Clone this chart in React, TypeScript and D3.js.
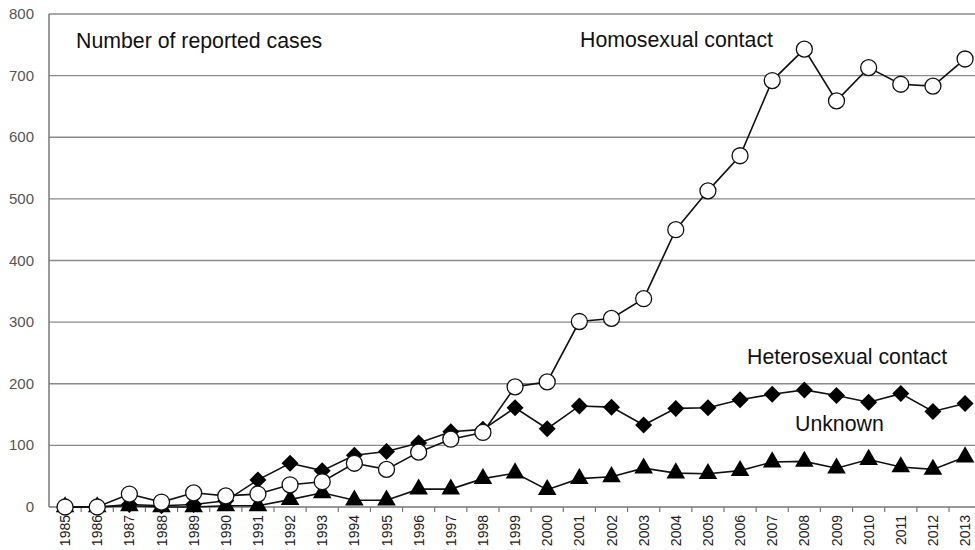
import React, { useEffect, useRef } from 'react';
import * as d3 from 'd3';

const years = d3.range(1985, 2014).map(String);
const homosexual = [0, 0, 21, 8, 23, 18, 21, 36, 41, 71, 61, 89, 110, 121, 195, 203, 301, 306, 338, 450, 513, 570, 692, 743, 659, 713, 686, 683, 727];
const heterosexual = [0, 0, 4, 2, 4, 10, 44, 71, 59, 84, 90, 104, 122, 126, 161, 127, 164, 162, 133, 160, 161, 174, 183, 190, 181, 170, 184, 155, 168];
const unknown = [0, 0, 2, 0, 0, 2, 2, 12, 23, 11, 11, 29, 29, 46, 55, 28, 46, 49, 63, 55, 54, 59, 73, 74, 63, 77, 65, 61, 81];
const yTicks = [0, 100, 200, 300, 400, 500, 600, 700, 800];

const App = () => {
  const ref = useRef<SVGSVGElement>(null);

  useEffect(() => {
    const width = 975;
    const height = 550;
    const left = 49;
    const top = 14;
    const bottom = 507;
    const step = (965 - 65) / 28;

    const svg = d3.select(ref.current);
    svg.selectAll('*').remove();

    const x = d3.scaleBand()
      .domain(years)
      .range([left, left + step * years.length])
      .paddingInner(0)
      .paddingOuter(0);

    const y = d3.scaleLinear().domain([0, 800]).range([bottom, top]);

    const cx = (i: number) => (x(years[i]) as number) + x.bandwidth() / 2;

    // gridlines
    svg.append('g')
      .selectAll('line')
      .data(yTicks.filter(d => d > 0))
      .join('line')
      .attr('x1', left)
      .attr('x2', width)
      .attr('y1', d => y(d))
      .attr('y2', d => y(d))
      .attr('stroke', '#8a8a8a')
      .attr('stroke-width', 1.3);

    // y labels
    svg.append('g')
      .selectAll('text')
      .data(yTicks)
      .join('text')
      .attr('x', 34)
      .attr('y', d => y(d) + 5)
      .attr('text-anchor', 'end')
      .attr('font-family', 'Liberation Sans, Arial, sans-serif')
      .attr('font-size', 15)
      .attr('fill', '#555')
      .text(d => d);

    // axes lines
    svg.append('line')
      .attr('x1', left).attr('x2', left)
      .attr('y1', top).attr('y2', bottom)
      .attr('stroke', '#777').attr('stroke-width', 1.5);
    svg.append('line')
      .attr('x1', left).attr('x2', width)
      .attr('y1', bottom).attr('y2', bottom)
      .attr('stroke', '#777').attr('stroke-width', 1.5);

    // x tick marks at band boundaries
    svg.append('g')
      .selectAll('line')
      .data(years)
      .join('line')
      .attr('x1', d => (x(d) as number) + x.bandwidth())
      .attr('x2', d => (x(d) as number) + x.bandwidth())
      .attr('y1', bottom)
      .attr('y2', bottom + 5)
      .attr('stroke', '#777')
      .attr('stroke-width', 1.2);

    // x labels
    svg.append('g')
      .selectAll('text')
      .data(years)
      .join('text')
      .attr('transform', d => `translate(${(x(d) as number) + x.bandwidth() / 2 + 5},${bottom + 8}) rotate(-90)`)
      .attr('text-anchor', 'end')
      .attr('font-family', 'Liberation Sans, Arial, sans-serif')
      .attr('font-size', 14)
      .attr('fill', '#222')
      .text(d => d);

    const line = d3.line<number>()
      .x((_, i) => cx(i))
      .y(d => y(d));

    const drawLine = (values: number[]) => {
      svg.append('path')
        .datum(values)
        .attr('d', line)
        .attr('fill', 'none')
        .attr('stroke', '#111')
        .attr('stroke-width', 1.6);
    };

    // unknown: triangles
    drawLine(unknown);
    svg.append('g')
      .selectAll('path')
      .data(unknown)
      .join('path')
      .attr('d', d3.symbol(d3.symbolTriangle, 150))
      .attr('transform', (d, i) => `translate(${cx(i)},${y(d)})`)
      .attr('fill', '#000');

    // heterosexual: diamonds
    drawLine(heterosexual);
    svg.append('g')
      .selectAll('rect')
      .data(heterosexual)
      .join('rect')
      .attr('x', -6)
      .attr('y', -6)
      .attr('width', 12)
      .attr('height', 12)
      .attr('transform', (d, i) => `translate(${cx(i)},${y(d)}) rotate(45)`)
      .attr('fill', '#000');

    // homosexual: open circles
    drawLine(homosexual);
    svg.append('g')
      .selectAll('circle')
      .data(homosexual)
      .join('circle')
      .attr('cx', (d, i) => cx(i))
      .attr('cy', d => y(d))
      .attr('r', 8)
      .attr('fill', '#fff')
      .attr('stroke', '#111')
      .attr('stroke-width', 1.3);

    // annotations
    const notes = [
      { text: 'Number of reported cases', x: 76, y: 48 },
      { text: 'Homosexual contact', x: 580, y: 47 },
      { text: 'Heterosexual contact', x: 747, y: 364 },
      { text: 'Unknown', x: 795, y: 431 },
    ];
    svg.append('g')
      .selectAll('text')
      .data(notes)
      .join('text')
      .attr('x', d => d.x)
      .attr('y', d => d.y)
      .attr('font-family', 'Liberation Sans, Arial, sans-serif')
      .attr('font-size', 21.3)
      .attr('fill', '#111')
      .text(d => d.text);

    svg.attr('width', width).attr('height', height);
  }, []);

  return <svg ref={ref} style={{ position: 'absolute', left: 0, top: 0, background: '#fff' }}></svg>;
};

export default App;
